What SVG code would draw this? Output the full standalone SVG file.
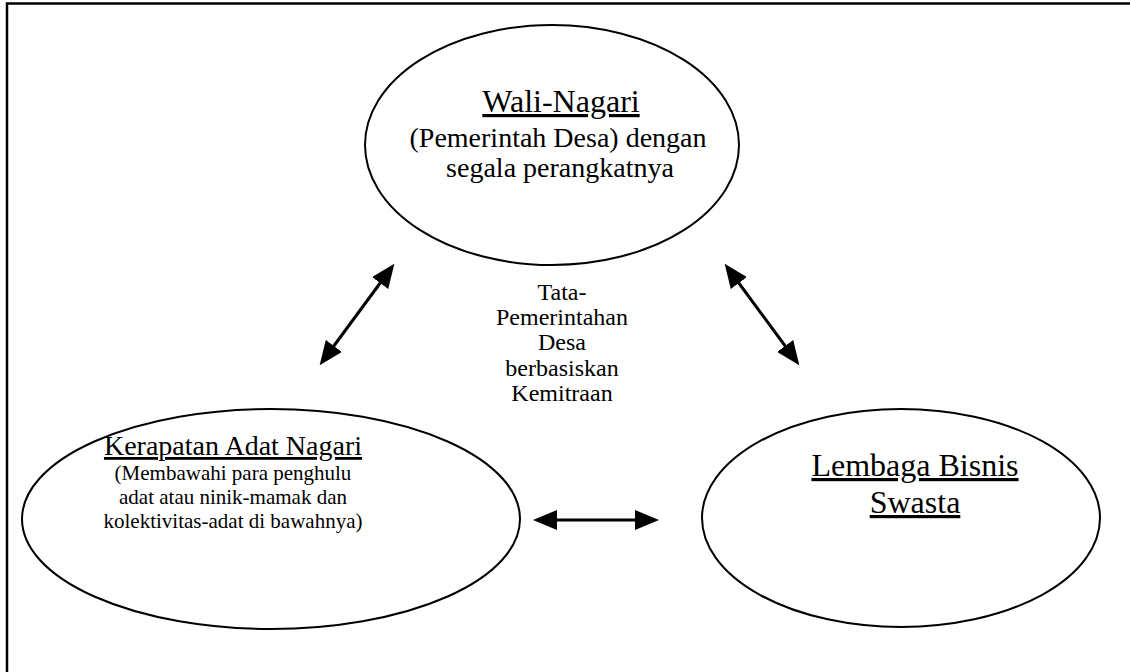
<svg xmlns="http://www.w3.org/2000/svg" width="1130" height="672" viewBox="0 0 1130 672">
  <style>
    .node ellipse { fill: #ffffff; stroke: #000000; stroke-width: 2; }
    text { font-family: "Liberation Serif", "Times New Roman", serif; fill: #000000; text-anchor: middle; }
    .title { font-size: 32px; text-decoration: underline; }
    .title28 { font-size: 28px; text-decoration: underline; }
    .body28 { font-size: 28px; }
    .body21 { font-size: 21px; }
    .body24 { font-size: 24px; }
    .conn line { stroke: #000000; stroke-width: 3; marker-start: url(#arrow); marker-end: url(#arrow); }
  </style>
  <defs>
    <marker id="arrow" markerUnits="userSpaceOnUse" markerWidth="24" markerHeight="20" viewBox="0 0 24 20" refX="20" refY="10" orient="auto-start-reverse">
      <path d="M0,0 L24,10 L0,20 Z" fill="#000000"/>
    </marker>
  </defs>
  <rect x="0" y="0" width="1130" height="672" fill="#ffffff"/>
  <path id="frame" d="M7,672 V3.5 H1130" fill="none" stroke="#000000" stroke-width="2.5"/>

  <g id="node-wali-nagari" class="node">
    <ellipse cx="552" cy="145" rx="187" ry="120"/>
    <text class="title" x="561" y="112">Wali-Nagari</text>
    <text class="body28" x="558" y="147">(Pemerintah Desa) dengan</text>
    <text class="body28" x="560" y="177">segala perangkatnya</text>
  </g>

  <g id="node-kerapatan" class="node">
    <ellipse cx="271" cy="519" rx="249" ry="110"/>
    <text class="title28" x="233" y="455">Kerapatan Adat Nagari</text>
    <text class="body21" x="233" y="480">(Membawahi para penghulu</text>
    <text class="body21" x="233" y="504">adat atau ninik-mamak dan</text>
    <text class="body21" x="233" y="528">kolektivitas-adat di bawahnya)</text>
  </g>

  <g id="node-lembaga" class="node">
    <ellipse cx="901" cy="518" rx="199" ry="109"/>
    <text class="title" x="915" y="476">Lembaga Bisnis</text>
    <text class="title" x="915" y="513">Swasta</text>
  </g>

  <g id="label-center">
    <text class="body24" x="562" y="300">Tata-</text>
    <text class="body24" x="562" y="325">Pemerintahan</text>
    <text class="body24" x="562" y="350">Desa</text>
    <text class="body24" x="562" y="376">berbasiskan</text>
    <text class="body24" x="562" y="401">Kemitraan</text>
  </g>

  <g id="connectors" class="conn">
    <line x1="392" y1="267" x2="322" y2="362"/>
    <line x1="727" y1="267" x2="797" y2="362"/>
    <line x1="537" y1="520" x2="655" y2="520"/>
  </g>
</svg>
